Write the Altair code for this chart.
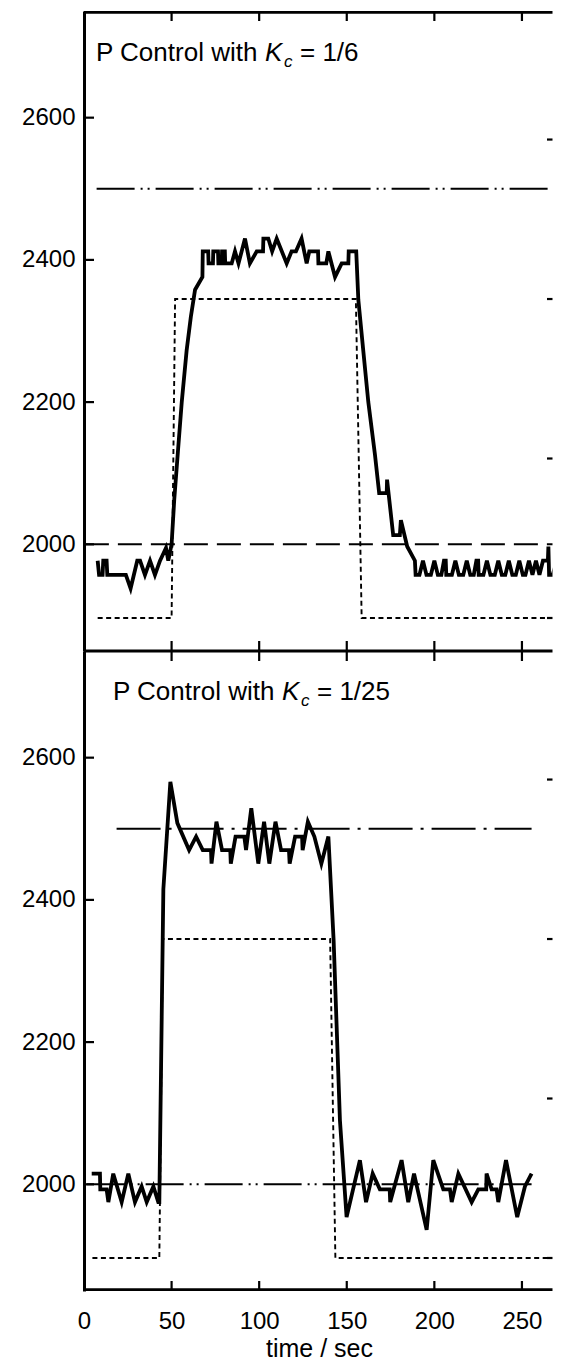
import altair as alt
import pandas as pd

# ---------------- data ----------------
# upper panel: P control with Kc = 1/6 (measured value, left axis)
top_t = [7.8, 8.6, 10.6, 11.0, 12.9, 13.3, 23.9, 26.6, 30.4, 32.0, 34.8, 37.7, 40.5, 43.4,
         46.8, 48.1, 50.0, 51.5, 53.6, 55.8, 58.6, 61.0, 63.4, 67.6, 67.8, 70.9, 71.1, 73.6,
         73.8, 76.5, 76.7, 78.6, 78.8, 80.4, 80.6, 84.3, 86.2, 88.2, 91.9, 94.7, 98.6, 102.2,
         102.4, 105.2, 107.4, 110.0, 115.7, 118.5, 121.0, 124.2, 127.1, 128.6, 133.6, 133.8,
         138.3, 139.5, 143.3, 147.1, 150.9, 151.1, 155.4, 156.6, 159.4, 162.3, 166.1, 168.5,
         172.8, 173.0, 176.5, 180.3, 180.9, 184.5, 188.9, 189.3, 191.5, 193.5, 195.5, 198.0,
         200.0, 202.0, 204.0, 205.5, 206.5, 206.8, 210.0, 212.0, 214.0, 216.5, 218.5, 220.5,
         222.5, 224.0, 225.0, 225.3, 228.0, 230.0, 232.0, 234.5, 236.5, 238.5, 240.5, 242.5,
         244.5, 246.5, 248.5, 250.5, 252.0, 254.0, 256.0, 258.0, 260.0, 262.0, 264.8, 265.1,
         265.5, 267.5, 270.0, 271.5, 273.0]
top_v = [1977, 1957, 1957, 1977, 1977, 1957, 1957, 1938, 1977, 1977, 1957, 1977, 1957, 1977,
         1995, 1977, 2000, 2062, 2130, 2200, 2273, 2320, 2358, 2376, 2412, 2412, 2395, 2395,
         2412, 2412, 2395, 2395, 2412, 2412, 2395, 2395, 2412, 2395, 2430, 2395, 2412, 2412,
         2430, 2430, 2412, 2430, 2395, 2412, 2412, 2430, 2395, 2412, 2412, 2395,
         2395, 2412, 2376, 2395, 2395, 2412, 2412, 2344, 2273, 2200, 2126, 2072,
         2072, 2091, 2013, 2013, 2034, 1997, 1977, 1957, 1957, 1977, 1957, 1957,
         1977, 1957, 1957, 1977, 1977, 1957, 1957, 1977, 1957, 1957, 1977, 1957,
         1957, 1977, 1977, 1957, 1957, 1977, 1957, 1957, 1977, 1957, 1957, 1977,
         1957, 1957, 1977, 1957, 1957, 1977, 1957, 1977, 1957, 1977, 1977, 1997,
         1957, 1957, 1977, 1960, 1977]

# lower panel: P control with Kc = 1/25
bot_t = [4.4, 9.1, 9.3, 12.9, 13.9, 16.7, 21.5, 25.3, 29.1, 32.9, 35.8, 39.6, 42.4, 43.0,
         45.3, 49.3, 53.3, 60.0, 64.0, 67.8, 72.5, 72.8, 75.6, 78.8, 83.5, 83.8, 86.5, 91.5,
         92.5, 95.5, 99.5, 102.8, 105.8, 109.3, 112.5, 117.0, 117.4, 120.5, 124.5, 124.8,
         127.8, 131.5, 135.5, 139.5, 142.5, 146.1, 149.9, 157.5, 161.0, 164.8, 168.9, 174.5,
         174.8, 181.3, 185.1, 188.4, 195.6, 199.4, 205.1, 208.9, 209.9, 213.7, 221.3, 225.1,
         229.6, 229.8, 232.7, 235.5, 236.5, 240.9, 247.3, 251.7, 255.5]
bot_v = [2015, 2015, 1993, 1993, 1975, 2015, 1975, 2015, 1975, 1997, 1975, 1997, 1975, 1975,
         2415, 2566, 2508, 2470, 2489, 2470, 2470, 2451, 2510, 2470, 2470, 2451, 2489, 2489,
         2470, 2529, 2451, 2510, 2451, 2510, 2470, 2470, 2451, 2489, 2489, 2470,
         2510, 2489, 2451, 2489, 2343, 2090, 1954, 2034, 1975, 2015, 1993, 1993,
         1975, 2034, 1975, 2015, 1936, 2034, 1993, 1993, 1975, 2015, 1975, 1993,
         1993, 2015, 1993, 1993, 1975, 2034, 1954, 1997, 2015]

# step input (dotted, right-hand axis)
step_top_t = [7.8, 50.0, 52.0, 155.2, 158.5, 273.0]
step_top_v = [10, 10, 30, 30, 10, 10]
step_bot_t = [4.8, 43.0, 45.0, 140.5, 143.5, 273.0]
step_bot_v = [10, 10, 30, 30, 10, 10]

# horizontal reference lines (start, end, level)
ref_top_hi_t = [7.2, 273.0]
ref_top_hi_v = [2500, 2500]
ref_top_lo_t = [0.5, 273.0]
ref_top_lo_v = [2000, 2000]
ref_bot_hi_t = [18.6, 255.5]
ref_bot_hi_v = [2500, 2500]
ref_bot_lo_t = [1.5, 255.5]
ref_bot_lo_v = [2000, 2000]

x_ticks = [0, 50, 100, 150, 200, 250]
y_ticks = [2000, 2200, 2400, 2600]
right_ticks = [10, 20, 30, 40]

# ---------------- layout / style ----------------
W, H = 470, 640
XDOM = [0, 268.3]
YDOM = [1850, 2750]
RDOM = [7.93, 48.06]
FONT = "Liberation Sans"
BORDER = 2.8


def line_df(ts, vs, key="v"):
    return pd.DataFrame({"t": ts, key: vs, "i": list(range(len(ts)))})


def panel(solid_t, solid_v, refs, step_t, step_v, tail, tx, ty, bottom):
    xscale = alt.Scale(domain=XDOM, nice=False, zero=False)
    if bottom:
        xaxis = alt.Axis(values=x_ticks, format="d", ticks=False, tickSize=0, domain=False,
                         grid=False, labelFontSize=24, labelPadding=18, labelFont=FONT,
                         labelColor="black", labelFlush=False,
                         title="time / sec", titleFontSize=25, titleFont=FONT,
                         titleFontWeight="normal", titleColor="black",
                         titleBaseline="alphabetic", titleY=65)
    else:
        xaxis = None
    X = alt.X("t:Q", scale=xscale, axis=xaxis)
    yaxis = alt.Axis(values=y_ticks, format="d", ticks=False, tickSize=0, domain=True,
                     domainColor="black", domainWidth=3, grid=False,
                     labelFontSize=24, labelPadding=9, labelFont=FONT,
                     labelColor="black", labelFlush=False, title=None,
                     minExtent=76, maxExtent=76, orient="left")
    Y = alt.Y("v:Q", scale=alt.Scale(domain=YDOM, nice=False, zero=False), axis=yaxis)

    layers = []
    # reference lines
    for (rt, rv, dash) in refs:
        layers.append(
            alt.Chart(line_df(rt, rv)).mark_line(color="black", strokeWidth=2,
                                                 strokeDash=dash, clip=True)
            .encode(x=X, y=Y, order="i:Q"))
    # measured signal
    layers.append(
        alt.Chart(line_df(solid_t, solid_v)).mark_line(color="black", strokeWidth=3.8,
                                                       strokeJoin="miter", clip=True)
        .encode(x=X, y=Y, order="i:Q"))
    # frame: top and bottom edges (drawn inside the plot so nothing spills out)
    one = pd.DataFrame({"k": [0]})
    top_y = BORDER / 2 if not bottom else 0
    layers.append(alt.Chart(one).mark_rule(color="black", strokeWidth=BORDER, clip=True)
                  .encode(x=alt.value(0), x2=alt.value(W), y=alt.value(top_y)))
    bot_y = H if not bottom else H - BORDER / 2
    layers.append(alt.Chart(one).mark_rule(color="black", strokeWidth=BORDER, clip=True)
                  .encode(x=alt.value(0), x2=alt.value(W), y=alt.value(bot_y)))
    # inward ticks on x (top and bottom edges) and left y
    xt = pd.DataFrame({"t": x_ticks})
    layers.append(alt.Chart(xt).mark_rule(color="black", strokeWidth=2.2, clip=True)
                  .encode(x=X, y=alt.value(0), y2=alt.value(10)))
    layers.append(alt.Chart(xt).mark_rule(color="black", strokeWidth=2.2, clip=True)
                  .encode(x=X, y=alt.value(H - 10), y2=alt.value(H)))
    yt = pd.DataFrame({"v": y_ticks})
    layers.append(alt.Chart(yt).mark_rule(color="black", strokeWidth=2.2, clip=True)
                  .encode(y=Y, x=alt.value(0), x2=alt.value(10)))
    # annotation text
    pieces = [("P Control with ", 0, 0, 26, "normal"),
              ("K", 169, 0, 26, "italic"),
              ("c", 188, 6, 17, "italic"),
              (tail, 204, 0, 26, "normal")]
    for (s, dx, dy, fs, style) in pieces:
        layers.append(
            alt.Chart(pd.DataFrame({"s": [s]}))
            .mark_text(align="left", baseline="alphabetic", font=FONT, fontSize=fs,
                       fontStyle=style, color="black")
            .encode(x=alt.value(tx + dx), y=alt.value(ty + dy), text="s:N"))
    left = alt.layer(*layers)

    # right-hand scale (labels lie outside the picture): invisible axis, inward ticks
    raxis = alt.Axis(orient="right", domain=False, ticks=False, labels=False, grid=False,
                     title=None, minExtent=0, maxExtent=0)
    R = alt.Y("r:Q", scale=alt.Scale(domain=RDOM, nice=False, zero=False), axis=raxis)
    step = (alt.Chart(line_df(step_t, step_v, key="r"))
            .mark_line(color="black", strokeWidth=1.9, strokeDash=[5, 3.5], clip=True)
            .encode(x=X, y=R, order="i:Q"))
    rticks = (alt.Chart(pd.DataFrame({"r": right_ticks}))
              .mark_rule(color="black", strokeWidth=2.2, clip=True)
              .encode(y=R, x=alt.value(W - 7), x2=alt.value(W)))
    # the reference frame continues past the picture edge: keep the right side open
    cover = (alt.Chart(one).mark_rule(color="white", strokeWidth=3, clip=True)
             .encode(x=alt.value(W), y=alt.value(0), y2=alt.value(H)))
    right = alt.layer(step, rticks, cover)

    return (alt.layer(left, right).resolve_scale(y="independent")
            .properties(width=W, height=H,
                        view=alt.ViewBackground(stroke="transparent", strokeWidth=0)))


top = panel(top_t, top_v,
            [(ref_top_hi_t, ref_top_hi_v, [38, 6, 2, 5, 2, 6]),
             (ref_top_lo_t, ref_top_lo_v, [24, 9])],
            step_top_t, step_top_v, "= 1/6", 12, 50, False)
bottom = panel(bot_t, bot_v,
               [(ref_bot_hi_t, ref_bot_hi_v, [44, 8, 3, 8]),
                (ref_bot_lo_t, ref_bot_lo_v, [38, 6, 2, 5, 2, 6])],
               step_bot_t, step_bot_v, "= 1/25", 29, 49, True)

chart = (alt.vconcat(top, bottom, spacing=0, bounds="flush")
         .properties(padding={"left": 0, "top": 3, "right": 0, "bottom": 0},
                     background="white")
         .configure_view(stroke="transparent", strokeWidth=0)
         .configure_axisRight(domain=False, ticks=False, labels=False, grid=False)
         .configure_axisTop(domain=False, ticks=False, labels=False, grid=False))

chart.save("out.html", embed_options={"renderer": "svg", "actions": False})
